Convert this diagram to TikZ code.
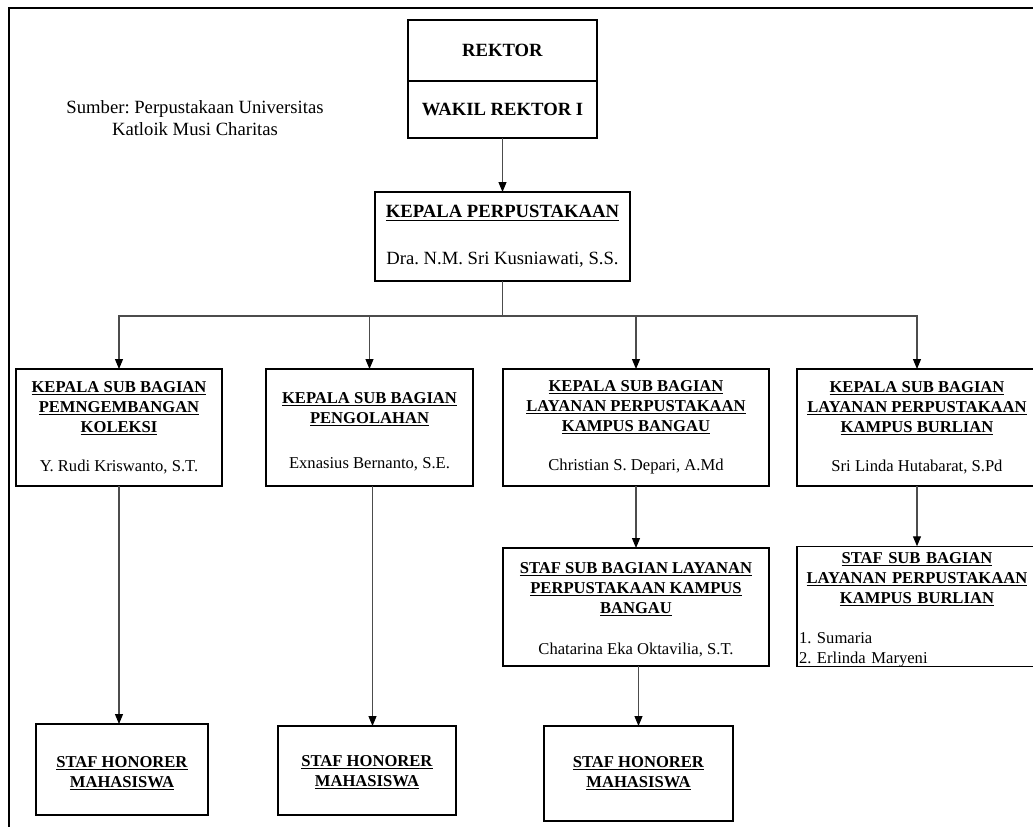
\documentclass[tikz,border=0pt]{standalone}
\usepackage{fontspec}
\setmainfont{Liberation Serif}
\usetikzlibrary{arrows.meta,calc}
\newcommand\fsz{\fontsize{12.45}{15}\selectfont}
\newcommand\fbig{\fontsize{14}{16.5}\selectfont}
\newcommand\tl[1]{\underline{\textbf{#1}}}
\newcommand\topgap[1]{\rule{0pt}{#1}}
\frenchspacing
\begin{document}
\frenchspacing
\begin{tikzpicture}[x=0.75pt,y=-0.75pt,
  box/.style={draw=black,line width=0.8pt,inner sep=0pt,outer sep=0pt,align=center,font=\fsz},
  wh/.style 2 args={minimum width=#1*0.75pt,minimum height=#2*0.75pt},
  conn/.style={draw=black!70,line width=0.8pt},
  arr/.style={conn,-{Triangle[length=7.5pt,width=6pt,color=black]}},
  txt/.style={font=\fbig,align=center,inner sep=0pt}
]
\useasboundingbox (0,0) rectangle (1033,826);
% frame
\draw[line width=0.9pt] (9,830) -- (9,8) -- (1040,8);

\node[txt] (src) at (195,118) {Sumber: Perpustakaan Universitas\\Katloik Musi Charitas};

\node[box,font=\fbig,wh={189}{61}] (rektor) at (502.5,50.5) {\textbf{REKTOR}};
\node[box,font=\fbig,wh={189}{57}] (wakil) at (502.5,109.5) {\textbf{WAKIL REKTOR I}};
\node[box,font=\fbig,wh={255}{89}] (kp) at (502.5,236.5)
  {\tl{KEPALA PERPUSTAKAAN}\\[18.75pt]Dra. N.M. Sri Kusniawati, S.S.};

\node[box,wh={206}{117}] (b1) at (119,427.5)
  {\tl{KEPALA SUB BAGIAN}\\\tl{PEMNGEMBANGAN}\\\tl{KOLEKSI}\\[14.25pt]Y. Rudi Kriswanto, S.T.};
\node[box,wh={207}{117}] (b2) at (369.5,427.5)
  {\topgap{14.2pt}\tl{KEPALA SUB BAGIAN}\\\tl{PENGOLAHAN}\\[18.5pt]Exnasius Bernanto, S.E.};
\node[box,wh={266}{117}] (b3) at (636,427.5)
  {\tl{KEPALA SUB BAGIAN}\\\tl{LAYANAN PERPUSTAKAAN}\\\tl{KAMPUS BANGAU}\\[14.25pt]Christian S. Depari, A.Md};
\node[box,wh={240}{117}] (b4) at (917,427.5)
  {\tl{KEPALA SUB BAGIAN}\\\tl{LAYANAN PERPUSTAKAAN}\\\tl{KAMPUS BURLIAN}\\[14.25pt]Sri Linda Hutabarat, S.Pd};

\node[box,wh={266}{118}] (b5) at (636,607)
  {\topgap{12.7pt}\tl{STAF SUB BAGIAN LAYANAN}\\\tl{PERPUSTAKAAN KAMPUS}\\\tl{BANGAU}\\[15.75pt]Chatarina Eka Oktavilia, S.T.};
\node[box,wh={240}{119},text width=236*0.75pt,align=left] (b6) at (917,606.5)
  {{\centering\topgap{12.7pt}\tl{STAF SUB BAGIAN}\\\tl{LAYANAN PERPUSTAKAAN}\\\tl{KAMPUS BURLIAN}\par}\vspace{15pt}1. Sumaria\\2. Erlinda Maryeni};

\node[box,wh={172}{91}] (b7) at (122,769.5) {\topgap{14.2pt}\tl{STAF HONORER}\\\tl{MAHASISWA}};
\node[box,wh={178}{89}] (b8) at (367,770.5) {\topgap{11.2pt}\tl{STAF HONORER}\\\tl{MAHASISWA}};
\node[box,wh={189}{95}] (b9) at (638.5,773.5) {\tl{STAF HONORER}\\\tl{MAHASISWA}};

% connectors
\draw[arr] (wakil.south) -- (kp.north);
\coordinate (hub) at (502.5,316);
\draw[conn] (kp.south) -- (hub);
\draw[arr] (hub) -| (b1.north);
\draw[arr] (hub) -| (b2.north);
\draw[arr] (hub) -| (b3.north);
\draw[arr] (hub) -| (b4.north);
\draw[arr] (b3.south) -- (b5.north);
\draw[arr] (b4.south) -- (b6.north);
\draw[arr] (b1.south) -- (b1.south |- b7.north);
\coordinate (s2) at ($(b2.south)+(3,0)$);
\draw[arr] (s2) -- (s2 |- b8.north);
\draw[arr] (b9.north |- b5.south) -- (b9.north);
\end{tikzpicture}
\end{document}
